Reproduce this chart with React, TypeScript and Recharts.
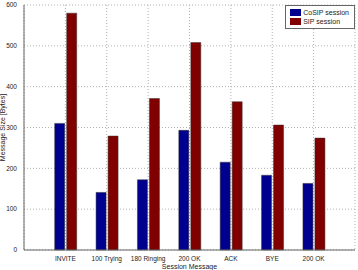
import { BarChart, Bar, XAxis, YAxis, CartesianGrid } from "recharts";

const messages = ["INVITE", "100 Trying", "180 Ringing", "200 OK", "ACK", "BYE", "200 OK "];
const cosipSizes = [310, 141, 172, 293, 215, 183, 163];
const sipSizes = [580, 279, 371, 508, 363, 306, 274];
const yTicks = [0, 100, 200, 300, 400, 500, 600];

const BLUE = "#00008f";
const RED = "#800000";
const FONT = "'Liberation Sans', Arial, sans-serif";

const data = messages.map((m, i) => ({ name: m, cosip: cosipSizes[i], sip: sipSizes[i] }));

// legend drawn as an overlay so it doesn't steal plot space
function LegendBox() {
  const items = [
    { label: "CoSIP session", color: BLUE },
    { label: "SIP session", color: RED },
  ];
  return (
    <div
      style={{
        position: "absolute",
        top: 5,
        right: 3,
        border: "1px solid #666",
        background: "#fff",
        padding: "2px 5px 2px 4px",
        fontFamily: FONT,
        fontSize: 7,
        color: "#222",
        lineHeight: "9px",
      }}
    >
      {items.map((it) => (
        <div key={it.label} style={{ display: "flex", alignItems: "center", height: 9 }}>
          <span style={{ display: "inline-block", width: 11, height: 7, background: it.color, marginRight: 2 }} />
          {it.label}
        </div>
      ))}
    </div>
  );
}

export default function App() {
  const xTick = { fontSize: 6.5, fill: "#222", fontFamily: FONT };
  const yTick = { fontSize: 6.5, fill: "#222", fontFamily: FONT };
  return (
    <div style={{ position: "absolute", left: 0, top: 0, width: 358, height: 270, background: "#fff" }}>
      <BarChart
        width={358}
        height={270}
        data={data}
        margin={{ top: 5, right: 3, left: 0, bottom: 0 }}
        barSize={10}
        barGap={2}
      >
        <CartesianGrid stroke="#b0b0b0" strokeDasharray="1 2" />
        <XAxis
          dataKey="name"
          height={20}
          padding={{ left: 20.7, right: 20.7 }}
          tick={xTick}
          tickLine={false}
          axisLine={{ stroke: "#666" }}
          interval={0}
          tickMargin={0}
          label={{ value: "Session Message", position: "insideBottom", offset: 1, style: { fontSize: 7, fill: "#222", fontFamily: FONT } }}
        />
        <XAxis xAxisId="top" dataKey="name" orientation="top" height={0} tick={false} tickLine={false} axisLine={{ stroke: "#666" }} />
        <YAxis
          width={24}
          domain={[0, 600]}
          ticks={yTicks}
          tick={yTick}
          tickLine={false}
          axisLine={{ stroke: "#666" }}
          tickMargin={1}
          label={{ value: "Message Size [Bytes]", angle: -90, position: "insideLeft", offset: 3, style: { fontSize: 7, fill: "#222", fontFamily: FONT, textAnchor: "middle" } }}
        />
        <YAxis yAxisId="right" orientation="right" width={0} domain={[0, 600]} tick={false} tickLine={false} axisLine={{ stroke: "#666" }} />
        <Bar dataKey="cosip" name="CoSIP session" fill={BLUE} stroke="#333" strokeWidth={0.5} isAnimationActive={false} />
        <Bar dataKey="sip" name="SIP session" fill={RED} stroke="#333" strokeWidth={0.5} isAnimationActive={false} />
      </BarChart>
      <LegendBox />
    </div>
  );
}
